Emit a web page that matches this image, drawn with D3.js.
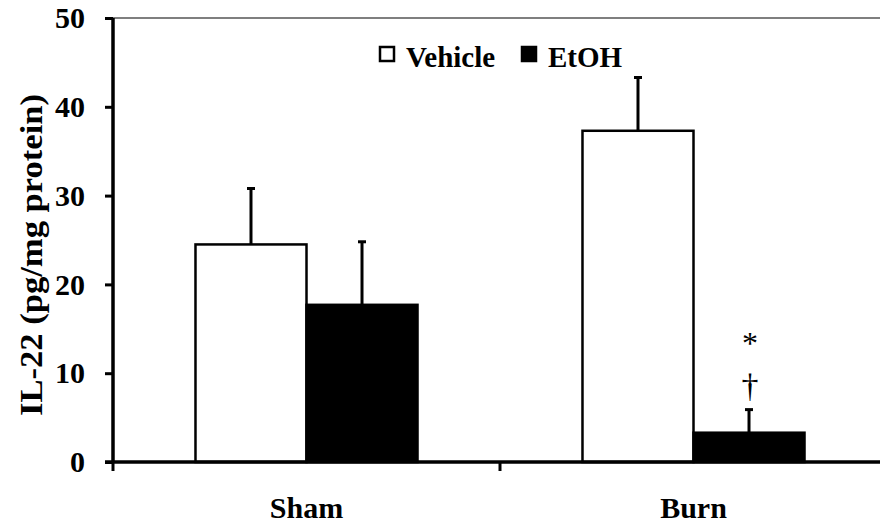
<!DOCTYPE html>
<html>
<head>
<meta charset="utf-8">
<script src="https://cdn.jsdelivr.net/npm/d3@7"></script>
<style>
  body { margin: 0; background: #fff; }
  text { font-family: "Liberation Serif", "Times New Roman", serif; }
</style>
</head>
<body>
<svg width="880" height="525"></svg>
<script>
// data
const groups = ['Sham', 'Burn'];
const treatments = ['Vehicle', 'EtOH'];
const means = [[24.5, 17.7], [37.3, 3.3]];   // [group][treatment]
const errs  = [[6.3, 7.1], [6.0, 2.6]];
const yTicks = [0, 10, 20, 30, 40, 50];
const marks = ['*', '\u2020'];                // over Burn / EtOH

const svg = d3.select('svg');
const pLeft = 113, pRight = 887, pTop = 18, pBottom = 462;

const x = d3.scaleBand().domain(groups).range([pLeft, pRight]);
const xSub = d3.scaleBand().domain(treatments).range([0, x.bandwidth()])
    .paddingInner(0).paddingOuter(0.743);
const y = d3.scaleLinear().domain([0, 50]).range([pBottom, pTop]);
const fill = d3.scaleOrdinal().domain(treatments).range(['#fff', '#000']);

const rows = [];
groups.forEach((g, i) => treatments.forEach((t, j) => {
  rows.push({g: g, t: t, v: means[i][j], e: errs[i][j]});
}));
const cx = d => x(d.g) + xSub(d.t) + xSub.bandwidth() / 2;

// top frame line
svg.append('line')
  .attr('x1', pLeft).attr('x2', 880).attr('y1', pTop).attr('y2', pTop)
  .attr('stroke', '#555').attr('stroke-width', 1.5);

// error bars (upper only), drawn first so bars cover the base
const eb = svg.append('g');
eb.selectAll('line.v').data(rows).enter().append('line')
  .attr('x1', cx).attr('x2', cx)
  .attr('y1', d => y(d.v)).attr('y2', d => y(d.v + d.e))
  .attr('stroke', '#000').attr('stroke-width', 3);
eb.selectAll('line.c').data(rows).enter().append('line')
  .attr('x1', d => cx(d) - 4).attr('x2', d => cx(d) + 4)
  .attr('y1', d => y(d.v + d.e)).attr('y2', d => y(d.v + d.e))
  .attr('stroke', '#000').attr('stroke-width', 3);

// bars
svg.append('g').selectAll('rect').data(rows).enter().append('rect')
  .attr('x', d => x(d.g) + xSub(d.t))
  .attr('width', xSub.bandwidth())
  .attr('y', d => y(d.v))
  .attr('height', d => y(0) - y(d.v))
  .attr('fill', d => fill(d.t))
  .attr('stroke', '#000').attr('stroke-width', 2.5);

// y axis
const yAxis = svg.append('g').attr('transform', `translate(${pLeft},0)`)
  .call(d3.axisLeft(y).tickValues(yTicks).tickSize(8).tickPadding(20));
yAxis.select('.domain').attr('stroke-width', 3.5).attr('d', `M0,${pTop}V${pBottom}`);
yAxis.selectAll('.tick line').attr('stroke-width', 3);
yAxis.selectAll('.tick text')
  .attr('font-size', 30).attr('font-weight', 'bold').attr('fill', '#000')
  .attr('font-family', '"Liberation Serif", serif');

// x axis
const xAxis = svg.append('g').attr('transform', `translate(0,${pBottom})`);
xAxis.append('line').attr('x1', pLeft - 8).attr('x2', 880)
  .attr('stroke', '#000').attr('stroke-width', 3.5);
xAxis.selectAll('line.t').data([pLeft, x('Burn'), pRight]).enter().append('line')
  .attr('x1', d => d).attr('x2', d => d).attr('y1', 0).attr('y2', 9)
  .attr('stroke', '#000').attr('stroke-width', 3);
xAxis.selectAll('text').data(groups).enter().append('text')
  .attr('x', d => x(d) + x.bandwidth() / 2).attr('y', 56)
  .attr('text-anchor', 'middle')
  .attr('font-size', 30).attr('font-weight', 'bold')
  .text(d => d);

// y title
svg.append('text')
  .attr('transform', 'translate(42,255) rotate(-90)')
  .attr('text-anchor', 'middle')
  .attr('font-size', 31).attr('font-weight', 'bold')
  .attr('textLength', 322).attr('lengthAdjust', 'spacingAndGlyphs')
  .text('IL-22 (pg/mg protein)');

// legend
const lg = svg.append('g');
const legX = [380, 522];
treatments.forEach((t, i) => {
  lg.append('rect').attr('x', legX[i]).attr('y', 47).attr('width', 14).attr('height', 14)
    .attr('fill', fill(t)).attr('stroke', '#000').attr('stroke-width', 2.5);
  lg.append('text').attr('x', legX[i] + 26).attr('y', 67)
    .attr('font-size', 29).attr('font-weight', 'bold').text(t);
});

// significance marks over Burn / EtOH
const mx = x('Burn') + xSub('EtOH') + xSub.bandwidth() / 2;
svg.append('text').attr('x', mx + 1).attr('y', 354).attr('text-anchor', 'middle')
  .attr('font-size', 32).text(marks[0]);
svg.append('text').attr('x', mx + 1).attr('y', 397).attr('text-anchor', 'middle')
  .attr('font-size', 34).text(marks[1]);
</script>
</body>
</html>
